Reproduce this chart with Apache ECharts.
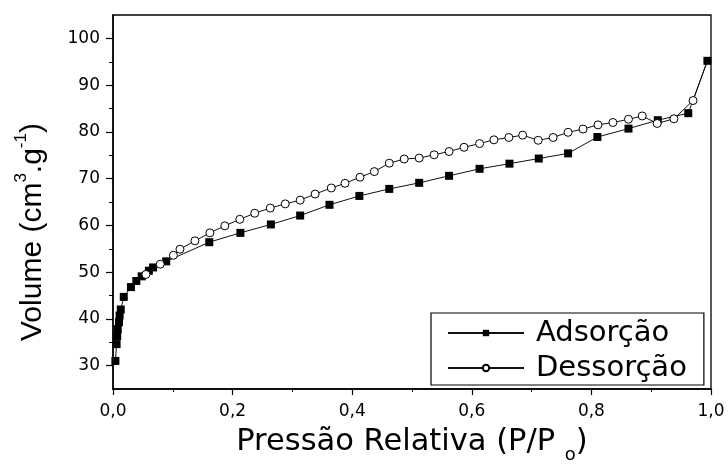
<!DOCTYPE html>
<html>
<head>
<meta charset="utf-8">
<script src="https://cdn.jsdelivr.net/npm/echarts@6/dist/echarts.min.js"></script>
<style>
  html, body { margin: 0; padding: 0; background: #fff; }
  #chart { width: 728px; height: 464px; }
</style>
</head>
<body>
<div id="chart"></div>
<script>
// N2 isotherm: relative pressure (P/Po) vs adsorbed volume (cm3/g)
const adsP = [0.004, 0.006, 0.007, 0.008, 0.010, 0.011, 0.013, 0.018, 0.030, 0.039, 0.048,
              0.060, 0.067, 0.089, 0.161, 0.213, 0.264, 0.313, 0.362, 0.412, 0.462, 0.512,
              0.562, 0.613, 0.663, 0.712, 0.761, 0.810, 0.862, 0.911, 0.962, 0.994];
const adsV = [31.0, 34.6, 36.3, 37.8, 39.3, 40.7, 42.0, 44.7, 46.8, 48.1, 49.1,
              50.3, 51.0, 52.3, 56.4, 58.4, 60.2, 62.1, 64.4, 66.3, 67.8, 69.1,
              70.6, 72.1, 73.2, 74.3, 75.4, 78.9, 80.7, 82.5, 84.0, 95.2];

const desP = [0.994, 0.970, 0.938, 0.910, 0.885, 0.862, 0.836, 0.811, 0.786, 0.761, 0.736,
              0.711, 0.685, 0.662, 0.637, 0.613, 0.587, 0.562, 0.537, 0.512, 0.487, 0.462,
              0.437, 0.413, 0.388, 0.365, 0.338, 0.313, 0.288, 0.263, 0.237, 0.212, 0.187,
              0.162, 0.137, 0.112, 0.101, 0.079, 0.055];
const desV = [95.2, 86.7, 82.8, 81.8, 83.4, 82.7, 82.0, 81.5, 80.6, 79.9, 78.8,
              78.2, 79.3, 78.8, 78.3, 77.5, 76.7, 75.8, 75.1, 74.4, 74.2, 73.3,
              71.5, 70.3, 69.0, 68.0, 66.7, 65.4, 64.6, 63.7, 62.6, 61.3, 59.9,
              58.4, 56.7, 54.9, 53.6, 51.7, 49.5];

const xTicks = [0, 0.2, 0.4, 0.6, 0.8, 1.0];
const yTicks = [30, 40, 50, 60, 70, 80, 90, 100];
const yMinorTicks = [35, 45, 55, 65, 75, 85, 95];

const seriesNames = ['Adsorção', 'Dessorção'];

const adsData = adsP.map((p, i) => [p, adsV[i]]);
// desorption branch starts at the last adsorption point, which already carries a marker
const desData = desP.map((p, i) => i === 0 ? { value: [p, desV[i]], symbol: 'none' } : [p, desV[i]]);

const tickFont = 'DejaVu Sans';
const black = '#000';

const chart = echarts.init(document.getElementById('chart'));
chart.setOption({
  animation: false,
  backgroundColor: '#fff',
  grid: {
    left: 113, right: 17, top: 15, bottom: 75,
    show: true, borderColor: black, borderWidth: 1.3,
    containLabel: false, outerBoundsMode: 'none'
  },
  legend: {
    data: seriesNames,
    orient: 'vertical',
    left: 431, top: 313,
    padding: [5, 17, 2, 16],
    itemGap: 5,
    itemWidth: 76,
    itemHeight: 8,
    selectedMode: false,
    backgroundColor: '#fff',
    borderColor: black,
    borderWidth: 1.2,
    borderRadius: 0,
    textStyle: { fontFamily: tickFont, fontSize: 29, lineHeight: 30, color: black, padding: [0, 0, 0, 7] }
  },
  xAxis: {
    type: 'value',
    min: 0, max: 1, interval: 0.2,
    name: '{a|Pressão Relativa (P/P }{sub|o}{a|)}',
    nameLocation: 'middle',
    nameGap: 31,
    nameTextStyle: {
      rich: {
        a: { fontFamily: tickFont, fontSize: 30.5, lineHeight: 44, color: black },
        sub: { fontFamily: tickFont, fontSize: 18, lineHeight: 18, color: black, verticalAlign: 'bottom' }
      }
    },
    axisLine: { onZero: false, lineStyle: { color: black, width: 1.5 } },
    axisTick: { show: true, inside: false, length: 6, lineStyle: { color: black, width: 1.2 } },
    minorTick: { show: true, splitNumber: 2, length: 3, lineStyle: { color: black, width: 1 } },
    splitLine: { show: false },
    axisLabel: {
      customValues: xTicks,
      margin: 14,
      fontFamily: tickFont, fontSize: 17, color: black,
      formatter: v => v.toFixed(1).replace('.', ',')
    }
  },
  yAxis: [
    {
      type: 'value',
      min: 25, max: 105, interval: 5,
      name: '{a|Volume (cm}{sup|3}{a|.g}{sup|-1}{a|)}',
      nameLocation: 'middle',
      nameGap: 60,
      nameRotate: 90,
      nameTextStyle: {
        padding: [0, 60, 0, 0],
        rich: {
          a: { fontFamily: 'Liberation Sans', fontSize: 30, lineHeight: 40, color: black },
          sup: { fontFamily: 'Liberation Sans', fontSize: 17, lineHeight: 12, color: black, verticalAlign: 'top' }
        }
      },
      axisLine: { onZero: false, lineStyle: { color: black, width: 1.5 } },
      axisTick: { show: true, customValues: yTicks, inside: false, length: 7, lineStyle: { color: black, width: 1.2 } },
      splitLine: { show: false },
      axisLabel: {
        customValues: yTicks,
        margin: 13,
        fontFamily: tickFont, fontSize: 17, color: black
      }
    },
    {
      type: 'value',
      min: 25, max: 105, interval: 5,
      position: 'left',
      axisLine: { show: false },
      axisTick: { show: true, customValues: yMinorTicks, inside: false, length: 4, lineStyle: { color: black, width: 1 } },
      axisLabel: { show: false },
      splitLine: { show: false }
    }
  ],
  series: [
    {
      name: seriesNames[0],
      type: 'line',
      data: adsData,
      yAxisIndex: 0,
      symbol: 'rect',
      symbolSize: 8,
      itemStyle: { color: black },
      lineStyle: { color: '#111', width: 1 },
      emphasis: { disabled: true },
      z: 2
    },
    {
      name: seriesNames[1],
      type: 'line',
      data: desData,
      yAxisIndex: 0,
      symbol: 'circle',
      symbolSize: 8,
      itemStyle: { color: '#fff', borderColor: black, borderWidth: 1 },
      lineStyle: { color: '#111', width: 1 },
      emphasis: { disabled: true },
      z: 3
    }
  ]
});
</script>
</body>
</html>
